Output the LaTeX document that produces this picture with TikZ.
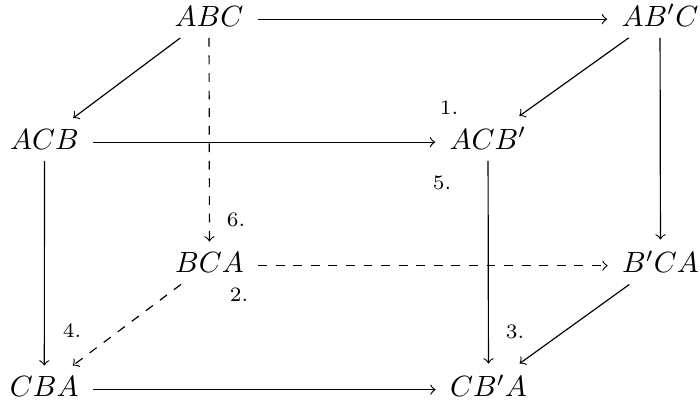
\documentclass[tikz,border=0pt]{standalone}
\begin{document}
\begin{tikzpicture}[x=0.3415pt,y=-0.3415pt,
  v/.style={inner xsep=4.7pt, inner ysep=3.7pt, anchor=base},
  ar/.style={->,>=to},
  dar/.style={->,>=to,dashed},
  lab/.style={font=\scriptsize, inner sep=0pt}]
\useasboundingbox (0,0) rectangle (700,407);
% vertices
\node[v] (abc)  at (209,26.5)  {$ABC$};
\node[v] (abpc) at (660,26.5)  {$AB'C$};
\node[v] (acb)  at (44.5,149.5) {$ACB$};
\node[v] (acbp) at (488,149.5) {$ACB'$};
\node[v] (bca)  at (209.5,273) {$BCA$};
\node[v] (bpca) at (660.5,273) {$B'CA$};
\node[v] (cba)  at (44.3,397)  {$CBA$};
\node[v] (cbpa) at (488.5,397) {$CB'A$};
% labels
\node[lab] (l1) at (449,108) {1.};
\node[lab] (l5) at (442,183) {5.};
\node[lab] (l6) at (236,220) {6.};
\node[lab] (l2) at (239,295) {2.};
\node[lab] (l4) at (72,331) {4.};
\node[lab] (l3) at (515,332) {3.};
% horizontal arrows (at math axis)
\draw[ar]  ([yshift=2.5pt]abc.base east) -- ([yshift=2.5pt]abpc.base west);
\draw[ar]  ([yshift=2.5pt]acb.base east) -- ([yshift=2.5pt]acbp.base west);
\draw[dar] ([yshift=2.5pt]bca.base east) -- ([yshift=2.5pt]bpca.base west);
\draw[ar]  ([yshift=2.5pt]cba.base east) -- ([yshift=2.5pt]cbpa.base west);
% vertical arrows
\draw[ar]  (acb) -- (cba);
\draw[dar] (abc) -- (bca);
\draw[ar]  (acbp) -- (cbpa);
\draw[ar]  (abpc) -- (bpca);
% diagonal arrows
\draw[ar]  (abc) -- (acb);
\draw[ar]  (abpc) -- (acbp);
\draw[dar] (bca) -- (cba);
\draw[ar]  (bpca) -- (cbpa);
\end{tikzpicture}
\end{document}
